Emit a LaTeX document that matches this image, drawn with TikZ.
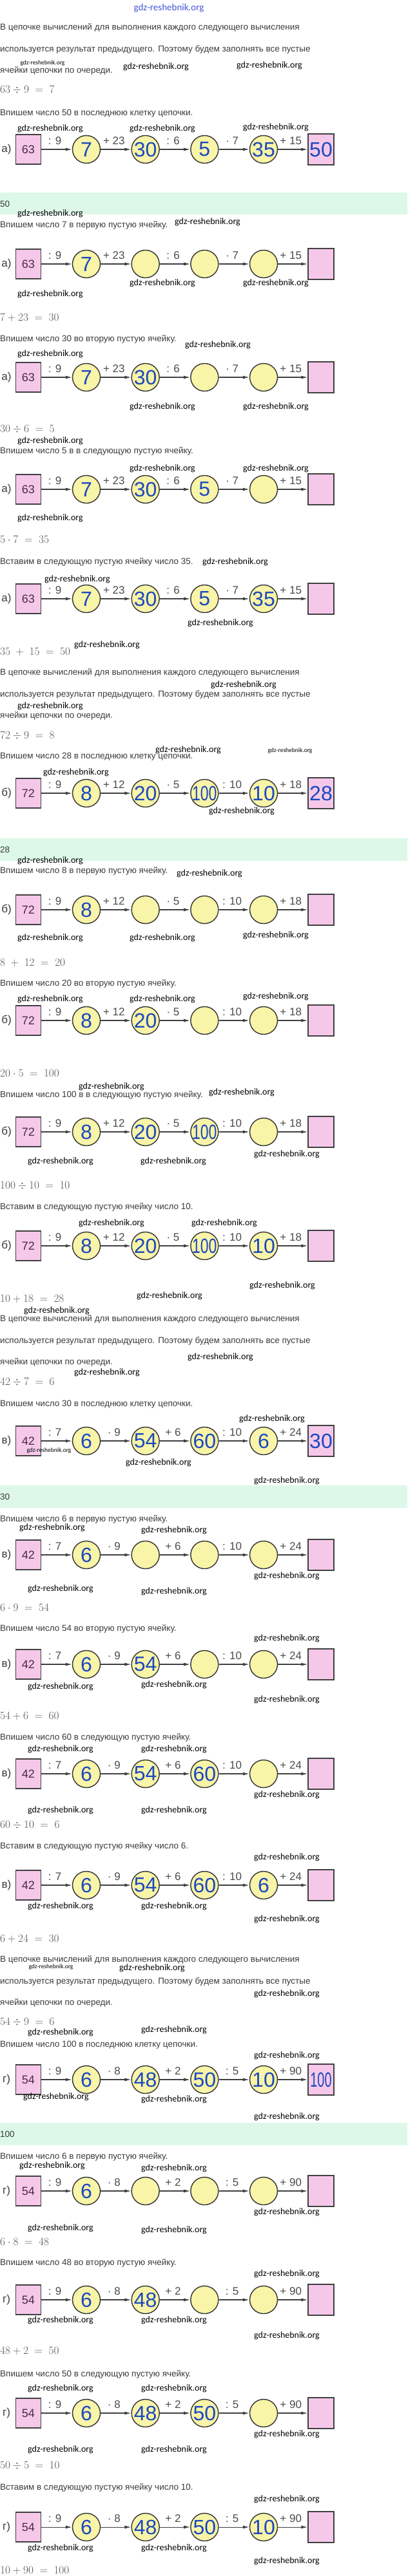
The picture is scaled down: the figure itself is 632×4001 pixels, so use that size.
\documentclass[tikz,border=0pt]{standalone}
\usepackage{fontspec}
\newfontfamily\arialfont{Liberation Sans}
\newfontfamily\wmfont{Carlito}
\usetikzlibrary{arrows.meta}

\definecolor{pinkbox}{HTML}{F5C8EA}
\definecolor{yellowcirc}{HTML}{F8F4A8}
\definecolor{bandgreen}{HTML}{DDF8E8}
\definecolor{numblue}{HTML}{1B49BE}
\definecolor{txtgray}{HTML}{3A3A3A}
\definecolor{eqgray}{HTML}{555555}
\definecolor{startnum}{HTML}{4A2C40}
\definecolor{titleblue}{HTML}{4657D8}

\newcommand{\sq}[1]{\scalebox{0.72}[1]{#1}}
\newcommand{\sqq}[1]{\scalebox{0.62}[1]{#1}}

% one row of the chain: name, y, letter, first number, op/value pairs
\newcommand{\chainrow}[5]{%
  \node[lettr] (#1l) at (10,#2) {#3};
  \node[startbox] (#10) at (44,#2) {#4};
  \foreach \oplab/\cellval [count=\i, remember=\i as \prv (initially 0)] in {#5}{
    \ifnum\i<5
      \node[numcirc] (#1\i) at ({134+91.67*(\i-1)},#2) {};
    \else
      \node[endbox] (#1\i) at (498,#2) {};
    \fi
    \node[numtext] (#1\i v) at (#1\i) {\cellval};
    \draw[conn] (#1\prv) -- node[oplabel] (#1\i o) {\oplab} (#1\i);
  }
}

% the three lines of explanation
\newcommand{\explain}[2]{%
  \node[txt] (#1a) at (0,#2) {В цепочке вычислений для выполнения каждого следующего вычисления};
  \node[txt] (#1b) at (0,#2+34) {используется результат предыдущего. Поэтому будем заполнять все пустые};
  \node[txt] (#1c) at (0,#2+67) {ячейки цепочки по очереди.};
}

\begin{document}
\begin{tikzpicture}[x=1pt,y=-1pt,
    txt/.style={anchor=west,inner sep=0pt,text=txtgray,font=\fontsize{13.5}{16}\selectfont\arialfont},
    eqn/.style={anchor=west,inner sep=0pt,text=eqgray,font=\fontsize{16}{16}\selectfont},
    wm/.style={inner sep=0pt,font=\fontsize{14}{14}\selectfont\wmfont},
    wmsmall/.style={inner sep=0pt,font=\fontsize{9.5}{10}\selectfont\wmfont},
    lettr/.style={inner sep=0pt,text=txtgray,font=\fontsize{17}{17}\selectfont\arialfont},
    startbox/.style={draw=black!75,line width=1.4pt,fill=pinkbox,minimum width=39pt,minimum height=46pt,inner sep=0pt,text=startnum,font=\fontsize{18}{18}\selectfont\arialfont},
    endbox/.style={draw=black!75,line width=1.4pt,fill=pinkbox,minimum width=40pt,minimum height=48pt,inner sep=0pt},
    numcirc/.style={circle,draw=black!80,line width=1.4pt,fill=yellowcirc,minimum size=43pt,inner sep=0pt},
    numtext/.style={inner sep=0pt,text=numblue,font=\fontsize{32}{32}\selectfont\arialfont},
    conn/.style={draw=black!75,line width=1.1pt,-{Latex[length=10pt,width=5pt]}},
    oplabel/.style={above=7pt,xshift=-3pt,inner sep=0pt,text=black!70,font=\fontsize{17}{17}\selectfont\arialfont}
  ]
  \fill[white] (0,0) rectangle (632,4001);
  \useasboundingbox (0,0) rectangle (632,4001);

  % green answer bands
  \fill[bandgreen] (0,299) rectangle (632,333);
  \fill[bandgreen] (0,1302) rectangle (632,1337);
  \fill[bandgreen] (0,2307) rectangle (632,2342);
  \fill[bandgreen] (0,3297) rectangle (632,3332);
  \node[txt] (ansa) at (0,317) {50};
  \node[txt] (ansb) at (0,1320) {28};
  \node[txt] (ansc) at (0,2325) {30};
  \node[txt] (ansd) at (0,3315) {100};

  \node[inner sep=0pt,text=titleblue,font=\fontsize{15}{15}\selectfont\wmfont] (title) at (262,13) {gdz-reshebnik.org};

  % a)
  \explain{pa}{43}
  \node[eqn] (ea1) at (0,140) {$63\div 9\;=\;7$};
  \node[txt] (ta1) at (0,176) {Впишем число 50 в последнюю клетку цепочки.};
  \chainrow{a1}{232}{а)}{63}{: 9/7, + 23/30, : 6/5, · 7/35, + 15/50}
  \node[txt] (ta2) at (0,350) {Впишем число 7 в первую пустую ячейку.};
  \chainrow{a2}{410}{а)}{63}{: 9/7, + 23/{}, : 6/{}, · 7/{}, + 15/{}}
  \node[eqn] (ea2) at (0,493) {$7+23\;=\;30$};
  \node[txt] (ta3) at (0,527) {Впишем число 30 во вторую пустую ячейку.};
  \chainrow{a3}{586}{а)}{63}{: 9/7, + 23/30, : 6/{}, · 7/{}, + 15/{}}
  \node[eqn] (ea3) at (0,667) {$30\div 6\;=\;5$};
  \node[txt] (ta4) at (0,701) {Впишем число 5 в в следующую пустую ячейку.};
  \chainrow{a4}{760}{а)}{63}{: 9/7, + 23/30, : 6/5, · 7/{}, + 15/{}}
  \node[eqn] (ea4) at (0,838) {$5\cdot 7\;=\;35$};
  \node[txt] (ta5) at (0,873) {Вставим в следующую пустую ячейку число 35.};
  \chainrow{a5}{930}{а)}{63}{: 9/7, + 23/30, : 6/5, · 7/35, + 15/{}}
  \node[eqn] (ea5) at (0,1012) {$35\;+\;15\;=\;50$};

  % b)
  \explain{pb}{1045}
  \node[eqn] (eb1) at (0,1143) {$72\div 9\;=\;8$};
  \node[txt] (tb1) at (0,1175) {Впишем число 28 в последнюю клетку цепочки.};
  \chainrow{b1}{1232}{б)}{72}{: 9/8, + 12/20, · 5/\sq{100}, : 10/10, + 18/28}
  \node[txt] (tb2) at (0,1353) {Впишем число 8 в первую пустую ячейку.};
  \chainrow{b2}{1413}{б)}{72}{: 9/8, + 12/{}, · 5/{}, : 10/{}, + 18/{}}
  \node[eqn] (eb2) at (0,1495) {$8\;+\;12\;=\;20$};
  \node[txt] (tb3) at (0,1528) {Впишем число 20 во вторую пустую ячейку.};
  \chainrow{b3}{1585}{б)}{72}{: 9/8, + 12/20, · 5/{}, : 10/{}, + 18/{}}
  \node[eqn] (eb3) at (0,1667) {$20\cdot 5\;=\;100$};
  \node[txt] (tb4) at (0,1701) {Впишем число 100 в в следующую пустую ячейку.};
  \chainrow{b4}{1758}{б)}{72}{: 9/8, + 12/20, · 5/\sq{100}, : 10/{}, + 18/{}}
  \node[eqn] (eb4) at (0,1842) {$100\div 10\;=\;10$};
  \node[txt] (tb5) at (0,1875) {Вставим в следующую пустую ячейку число 10.};
  \chainrow{b5}{1935}{б)}{72}{: 9/8, + 12/20, · 5/\sq{100}, : 10/10, + 18/{}}
  \node[eqn] (eb5) at (0,2017) {$10+18\;=\;28$};

  % c)
  \explain{pc}{2049}
  \node[eqn] (ec1) at (0,2147) {$42\div 7\;=\;6$};
  \node[txt] (tc1) at (0,2181) {Впишем число 30 в последнюю клетку цепочки.};
  \chainrow{c1}{2238}{в)}{42}{: 7/6, · 9/54, + 6/60, : 10/6, + 24/30}
  \node[txt] (tc2) at (0,2360) {Впишем число 6 в первую пустую ячейку.};
  \chainrow{c2}{2415}{в)}{42}{: 7/6, · 9/{}, + 6/{}, : 10/{}, + 24/{}}
  \node[eqn] (ec2) at (0,2497) {$6\cdot 9\;=\;54$};
  \node[txt] (tc3) at (0,2530) {Впишем число 54 во вторую пустую ячейку.};
  \chainrow{c3}{2585}{в)}{42}{: 7/6, · 9/54, + 6/{}, : 10/{}, + 24/{}}
  \node[eqn] (ec3) at (0,2665) {$54+6\;=\;60$};
  \node[txt] (tc4) at (0,2699) {Впишем число 60 в следующую пустую ячейку.};
  \chainrow{c4}{2755}{в)}{42}{: 7/6, · 9/54, + 6/60, : 10/{}, + 24/{}}
  \node[eqn] (ec4) at (0,2835) {$60\div 10\;=\;6$};
  \node[txt] (tc5) at (0,2868) {Вставим в следующую пустую ячейку число 6.};
  \chainrow{c5}{2928}{в)}{42}{: 7/6, · 9/54, + 6/60, : 10/6, + 24/{}}
  \node[eqn] (ec5) at (0,3011) {$6+24\;=\;30$};

  % d)
  \explain{pd}{3044}
  \node[eqn] (ed1) at (0,3141) {$54\div 9\;=\;6$};
  \node[txt] (td1) at (0,3176) {Впишем число 100 в последнюю клетку цепочки.};
  \chainrow{d1}{3230}{г)}{54}{: 9/6, · 8/48, + 2/50, : 5/10, + 90/\sqq{100}}
  \node[txt] (td2) at (0,3350) {Впишем число 6 в первую пустую ячейку.};
  \chainrow{d2}{3403}{г)}{54}{: 9/6, · 8/{}, + 2/{}, : 5/{}, + 90/{}}
  \node[eqn] (ed2) at (0,3482) {$6\cdot 8\;=\;48$};
  \node[txt] (td3) at (0,3515) {Впишем число 48 во вторую пустую ячейку.};
  \chainrow{d3}{3572}{г)}{54}{: 9/6, · 8/48, + 2/{}, : 5/{}, + 90/{}}
  \node[eqn] (ed3) at (0,3651) {$48+2\;=\;50$};
  \node[txt] (td4) at (0,3688) {Впишем число 50 в следующую пустую ячейку.};
  \chainrow{d4}{3748}{г)}{54}{: 9/6, · 8/48, + 2/50, : 5/{}, + 90/{}}
  \node[eqn] (ed4) at (0,3830) {$50\div 5\;=\;10$};
  \node[txt] (td5) at (0,3864) {Вставим в следующую пустую ячейку число 10.};
  \chainrow{d5}{3925}{г)}{54}{: 9/6, · 8/48, + 2/50, : 5/10, + 90/{}}
  \node[eqn] (ed5) at (0,3992) {$10+90\;=\;100$};

  % watermarks
  \foreach \wx/\wy [count=\k] in {78/200, 252/200, 428/198, 242/104, 418/102,
      78/332, 322/345, 252/440, 428/440, 78/457, 338/536, 78/550,
      252/632, 428/632, 78/685, 252/728, 428/728, 78/805,
      365/873, 120/900, 342/968, 166/1002, 378/1064, 78/1097,
      292/1165, 118/1200, 375/1260, 78/1337, 325/1357,
      78/1457, 252/1457, 428/1453, 78/1552, 252/1552, 428/1548,
      173/1688, 375/1697, 445/1793, 94/1804, 269/1804,
      173/1900, 348/1900, 438/1997, 263/2013, 88/2036,
      342/2108, 166/2132, 422/2204, 246/2272, 445/2300,
      81/2373, 270/2377, 445/2448, 94/2468, 270/2472,
      445/2545, 94/2620, 270/2617, 445/2640,
      94/2717, 270/2717, 445/2788, 94/2812, 270/2812,
      445/2885, 94/2961, 270/2961, 445/2981,
      236/3057, 445/3097, 94/3157, 270/3153, 445/3193,
      87/3257, 270/3261, 445/3288,
      81/3364, 270/3368, 445/3436, 94/3461, 270/3464,
      445/3532, 94/3604, 270/3604, 445/3628,
      94/3710, 270/3710, 445/3781, 94/3805, 270/3805,
      445/3882, 94/3958, 270/3958, 445/3978}
    \node[wm] (wm\k) at (\wx,\wy) {gdz-reshebnik.org};
  \foreach \wx/\wy [count=\k] in {66/98, 450/1166, 76/2253, 79/3055}
    \node[wmsmall] (wms\k) at (\wx,\wy) {gdz-reshebnik.org};
\end{tikzpicture}
\end{document}
